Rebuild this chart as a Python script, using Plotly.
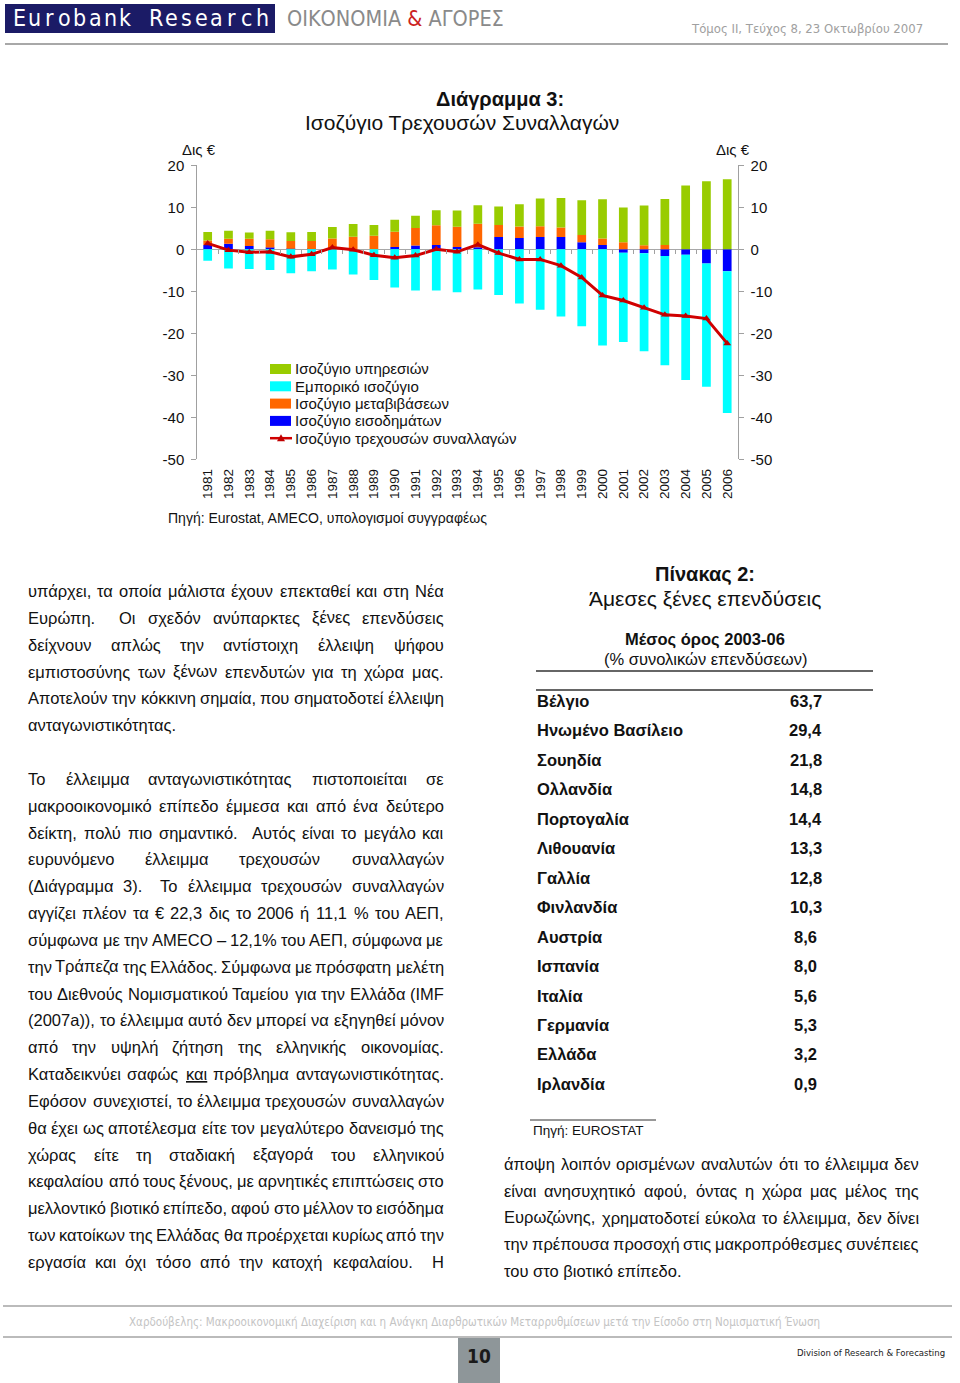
import re
import unicodedata
import plotly.graph_objects as go

# ---------------- data ----------------
years = list(range(1981, 2007))
year_labels = [str(y) for y in years]
income = [1.0, 1.3, 0.8, 0.4, 0.15, 0.1, 0.1, 0.0, 0.0, 0.55, 0.9, 1.0, 0.55,
          0.5, 2.9, 2.7, 2.9, 2.9, 1.7, 1.0, -0.8, -0.95, -1.6, -1.3, -3.4, -5.2]
transfers = [1.1, 1.2, 1.7, 2.0, 1.8, 1.9, 2.5, 3.0, 3.2, 3.6, 4.2, 4.7, 4.8,
             5.6, 2.9, 2.7, 2.6, 2.3, 1.7, 1.6, 1.7, 0.95, 1.0, 0.0, 0.0, 0.0]
services = [2.0, 1.9, 1.5, 2.0, 2.1, 2.1, 2.7, 3.0, 2.6, 2.9, 2.9, 3.6, 3.9,
            4.4, 4.4, 5.3, 6.6, 7.0, 8.3, 9.3, 8.25, 9.5, 11.0, 15.2, 16.2, 16.7]
trade = [-2.7, -4.6, -4.7, -4.9, -5.7, -5.2, -4.8, -6.0, -7.3, -9.1, -9.8, -9.8, -10.2,
         -9.6, -10.9, -12.9, -14.4, -16.0, -18.3, -22.9, -21.3, -23.3, -26.0, -29.8, -29.3, -33.8]
current = [1.4, -0.2, -0.7, -0.6, -1.8, -1.2, 0.4, -0.1, -1.4, -2.0, -1.5, 0.0, -0.6,
           1.1, -0.9, -2.4, -2.4, -3.9, -6.7, -11.0, -12.2, -13.9, -15.6, -15.9, -16.5, -22.4]
y_ticks = [20, 10, 0, -10, -20, -30, -40, -50]
y_tick_labels = ["20", "10", "0", "-10", "-20", "-30", "-40", "-50"]
y_range = [-50, 20]

series_names = ["Ισοζύγιο υπηρεσιών", "Εμπορικό ισοζύγιο", "Ισοζύγιο μεταβιβάσεων",
                "Ισοζύγιο εισοδημάτων", "Ισοζύγιο τρεχουσών συναλλαγών"]
series_colors = ["#99CC00", "#00FFFF", "#FF6600", "#0000FF", "#D00000"]

countries = ["Βέλγιο", "Ηνωμένο Βασίλειο", "Σουηδία", "Ολλανδία", "Πορτογαλία",
             "Λιθουανία", "Γαλλία", "Φινλανδία", "Αυστρία", "Ισπανία", "Ιταλία",
             "Γερμανία", "Ελλάδα", "Ιρλανδία"]
fdi_share = [63.7, 29.4, 21.8, 14.8, 14.4, 13.3, 12.8, 10.3, 8.6, 8.0, 5.6, 5.3, 3.2, 0.9]

LEFT_P1 = [
    "υπάρχει, τα οποία μάλιστα έχουν επεκταθεί και στη Νέα",
    "Ευρώπη.  Οι σχεδόν ανύπαρκτες ξένες επενδύσεις",
    "δείχνουν απλώς την αντίστοιχη έλλειψη ψήφου",
    "εμπιστοσύνης των ξένων επενδυτών για τη χώρα μας.",
    "Αποτελούν την κόκκινη σημαία, που σηματοδοτεί έλλειψη",
    "ανταγωνιστικότητας.",
]
LEFT_P2 = [
    "Το έλλειμμα ανταγωνιστικότητας πιστοποιείται σε",
    "μακροοικονομικό επίπεδο έμμεσα και από ένα δεύτερο",
    "δείκτη, πολύ πιο σημαντικό.  Αυτός είναι το μεγάλο και",
    "ευρυνόμενο έλλειμμα τρεχουσών συναλλαγών",
    "(Διάγραμμα 3).  Το έλλειμμα τρεχουσών συναλλαγών",
    "αγγίζει πλέον τα € 22,3 δις το 2006 ή 11,1 % του ΑΕΠ,",
    "σύμφωνα με την AMECO – 12,1% του ΑΕΠ, σύμφωνα με",
    "την Τράπεζα της Ελλάδος. Σύμφωνα με πρόσφατη μελέτη",
    "του Διεθνούς Νομισματικού Ταμείου για την Ελλάδα (IMF",
    "(2007a)), το έλλειμμα αυτό δεν μπορεί να εξηγηθεί μόνον",
    "από την υψηλή ζήτηση της ελληνικής οικονομίας.",
    "Καταδεικνύει σαφώς <u>και</u> πρόβλημα ανταγωνιστικότητας.",
    "Εφόσον συνεχιστεί, το έλλειμμα τρεχουσών συναλλαγών",
    "θα έχει ως αποτέλεσμα είτε τον μεγαλύτερο δανεισμό της",
    "χώρας είτε τη σταδιακή εξαγορά του ελληνικού",
    "κεφαλαίου από τους ξένους, με αρνητικές επιπτώσεις στο",
    "μελλοντικό βιοτικό επίπεδο, αφού στο μέλλον το εισόδημα",
    "των κατοίκων της Ελλάδας θα προέρχεται κυρίως από την",
    "εργασία και όχι τόσο από την κατοχή κεφαλαίου.  Η",
]
RIGHT_P = [
    "άποψη λοιπόν ορισμένων αναλυτών ότι το έλλειμμα δεν",
    "είναι ανησυχητικό αφού, όντας η χώρα μας μέλος της",
    "Ευρωζώνης, χρηματοδοτεί εύκολα το έλλειμμα, δεν δίνει",
    "την πρέπουσα προσοχή στις μακροπρόθεσμες συνέπειες",
    "του στο βιοτικό επίπεδο.",
]

# ---------------- page geometry helpers ----------------
W, H = 960, 1383
def X(px):
    return px / W
def Y(py):
    return 1 - py / H

BODY = "Liberation Sans, Arial, Helvetica, sans-serif"
NARROW = "Liberation Sans Narrow, Arial Narrow, DejaVu Sans Condensed, Liberation Sans, sans-serif"

# approximate Arial advance widths (1/1000 em)
WID = {}
for ch, w in zip("abcdefghijklmnopqrstuvwxyz",
                 [556,556,500,556,556,278,556,556,222,222,500,222,833,556,556,556,556,333,500,278,556,500,722,500,500,500]):
    WID[ch] = w
for ch, w in zip("ABCDEFGHIJKLMNOPQRSTUVWXYZ",
                 [667,667,722,722,667,611,778,722,278,500,667,556,833,722,778,667,778,722,667,611,722,667,944,667,667,611]):
    WID[ch] = w
for ch, w in zip("αβγδεζηθικλμνξοπρσςτυφχψω",
                 [578,575,500,557,446,441,556,556,222,500,500,576,500,448,556,690,569,617,484,395,546,726,525,713,781]):
    WID[ch] = w
for ch, w in zip("ΑΒΓΔΕΖΗΘΙΚΛΜΝΞΟΠΡΣΤΥΦΧΨΩ",
                 [667,667,551,668,667,611,722,778,278,667,668,833,722,650,778,722,667,618,611,667,797,667,835,748]):
    WID[ch] = w
WID.update({" ": 278, ",": 278, ".": 278, ":": 278, "(": 333, ")": 333, "-": 333,
            "–": 556, "€": 556, "%": 889})
for d in "0123456789":
    WID[d] = 556

def text_w(s, size):
    s = re.sub(r"<[^>]+>", "", s)
    tot = 0
    for ch in s:
        base = unicodedata.normalize("NFD", ch)[0]
        tot += WID.get(ch, WID.get(base, 556))
    return tot * size / 1000.0

annotations = []
shapes = []

def txt(px, py, text, size, family=BODY, color="#111111", xanchor="left", bold=False):
    if bold:
        text = "<b>" + text + "</b>"
    annotations.append(dict(x=X(px), y=Y(py), xref="paper", yref="paper", text=text,
                            showarrow=False, xanchor=xanchor, yanchor="middle",
                            borderpad=0, borderwidth=0,
                            font=dict(size=size, family=family, color=color)))

def line(x0, y0, x1, y1, color="#333333", width=1):
    shapes.append(dict(type="line", xref="paper", yref="paper", x0=X(x0), y0=Y(y0),
                       x1=X(x1), y1=Y(y1), line=dict(color=color, width=width)))

def rect(x0, y0, x1, y1, fill, layer="below"):
    shapes.append(dict(type="rect", xref="paper", yref="paper", x0=X(x0), y0=Y(y0),
                       x1=X(x1), y1=Y(y1), fillcolor=fill, line=dict(width=0), layer=layer))

FS = 16.5
def paragraph(lines, left, right, y0, step, justify_last):
    for i, ln in enumerate(lines):
        py = y0 + i * step
        last = (i == len(lines) - 1)
        if last and not justify_last:
            txt(left, py, ln, FS)
            continue
        parts = re.split(r"( +)", ln)
        words = parts[0::2]
        spaces = [len(s) for s in parts[1::2]]
        if not spaces:
            txt(left, py, ln, FS)
            continue
        wsum = sum(text_w(w, FS) for w in words)
        gap = (right - left - wsum) / sum(spaces)
        x = left
        for k, w in enumerate(words):
            if k == len(words) - 1:
                txt(right, py, w, FS, xanchor="right")
            else:
                txt(x, py, w, FS)
                x += text_w(w, FS) + spaces[k] * gap

# ---------------- chart ----------------
PX_L, PX_R, PX_T, PX_B = 197.3, 737.6, 165.3, 459.3
xdom = [X(PX_L), X(PX_R)]
ydom = [Y(PX_B), Y(PX_T)]
zero_pos = ydom[0] + (ydom[1] - ydom[0]) * (0 - y_range[0]) / (y_range[1] - y_range[0])

fig = go.Figure()
BW = 0.42
fig.add_trace(go.Bar(x=years, y=income, name=series_names[3], marker=dict(color=series_colors[3], line_width=0),
                     width=BW))
fig.add_trace(go.Bar(x=years, y=transfers, name=series_names[2], marker=dict(color=series_colors[2], line_width=0),
                     width=BW))
fig.add_trace(go.Bar(x=years, y=services, name=series_names[0], marker=dict(color=series_colors[0], line_width=0),
                     width=BW))
fig.add_trace(go.Bar(x=years, y=trade, name=series_names[1], marker=dict(color=series_colors[1], line_width=0),
                     width=BW))
fig.add_trace(go.Scatter(x=years, y=current, name=series_names[4], mode="lines+markers",
                         line=dict(color=series_colors[4], width=3),
                         marker=dict(symbol="triangle-up", size=7, color="#C00000")))
# helper (invisible) trace so the mirrored axes render
fig.add_trace(go.Scatter(x=years, y=current, xaxis="x2", yaxis="y2", mode="lines",
                         line=dict(width=0), opacity=0, showlegend=False, hoverinfo="skip"))

AX = "#A0A0A0"
xr = [years[0] - 0.5, years[-1] + 0.5]
fig.update_layout(
    width=W, height=H, autosize=False,
    margin=dict(l=0, r=0, t=0, b=0, pad=0, autoexpand=False),
    paper_bgcolor="white", plot_bgcolor="white",
    font=dict(family=BODY, color="#111111"),
    barmode="relative", bargap=0.5, showlegend=False,
    xaxis=dict(domain=xdom, range=xr, tickmode="array", tickvals=years, ticktext=year_labels,
               tickangle=-90, tickfont=dict(size=13.5, color="#111111"), showgrid=False,
               zeroline=False, showline=False, ticks="", ticklabelstandoff=6, anchor="y",
               automargin=False),
    xaxis2=dict(overlaying="x", range=xr, anchor="free", position=zero_pos, side="bottom",
                tickmode="array", tickvals=[y + 0.5 for y in years[:-1]], showticklabels=False,
                ticks="outside", ticklen=4, tickcolor=AX, showgrid=False, zeroline=False,
                showline=False, automargin=False),
    yaxis=dict(domain=ydom, range=y_range, tickmode="array", tickvals=y_ticks, ticktext=y_tick_labels,
               tickfont=dict(size=15, color="#111111"), showgrid=False, zeroline=True,
               zerolinecolor="#A8A8A8", zerolinewidth=1, showline=True, linecolor=AX,
               ticks="outside", ticklen=5, tickcolor=AX, ticklabelstandoff=4, anchor="x",
               automargin=False),
    yaxis2=dict(overlaying="y", side="right", range=y_range, tickmode="array", tickvals=y_ticks,
                ticktext=y_tick_labels,
                tickfont=dict(size=15, color="#111111"), showgrid=False, zeroline=False,
                showline=True, linecolor=AX, ticks="outside", ticklen=5, tickcolor=AX,
                ticklabelstandoff=4, anchor="x", automargin=False),
)

# manual legend (rows of the reference legend box)
leg_order = [0, 1, 2, 3, 4]
for r, k in enumerate(leg_order):
    py = 369 + r * 17.3
    if k < 4:
        rect(270, py - 5, 291, py + 5, series_colors[k], layer="above")
    else:
        line(270, py, 292, py, color=series_colors[4], width=2.5)
        shapes.append(dict(type="path", xref="paper", yref="paper",
                           path="M {} {} L {} {} L {} {} Z".format(X(277), Y(py + 3), X(285), Y(py + 3), X(281), Y(py - 4)),
                           fillcolor="#C00000", line=dict(width=0)))
    txt(295, py, series_names[k], 15)

# chart texts
txt(500, 99, "Διάγραμμα 3:", 20, bold=True, xanchor="center")
txt(462, 122, "Ισοζύγιο Τρεχουσών Συναλλαγών", 21, xanchor="center")
txt(199, 150, "Δις €", 15, xanchor="center")
txt(733, 150, "Δις €", 15, xanchor="center")
txt(168, 518, "Πηγή: Eurostat, AMECO, υπολογισμοί συγγραφέως", 14)

# ---------------- header ----------------
rect(5, 4, 275, 33, "#1B1B66")
for i, ch in enumerate("Eurobank Research"):
    if ch != " ":
        txt(19 + i * 15.2, 18.5, ch, 23, family=NARROW, color="white", xanchor="center")
txt(287, 18.5, "ΟΙΚΟΝΟΜΙΑ <span style='color:#CC2222'>&</span> ΑΓΟΡΕΣ", 21.5,
    family=NARROW, color="#8A8A8A")
txt(923, 28, "Τόμος ΙΙ, Τεύχος 8, 23 Οκτωβρίου 2007", 13, family=NARROW,
    color="#A0A0A0", xanchor="right")
line(5, 44, 948, 44, color="#A8A8A8", width=2)

# ---------------- body text ----------------
paragraph(LEFT_P1, 28, 444, 591, 26.84, False)
paragraph(LEFT_P2, 28, 444, 591 + 7 * 26.84, 26.84, True)
paragraph(RIGHT_P, 504, 919, 1164, 26.75, False)

# ---------------- table ----------------
txt(705, 574, "Πίνακας 2:", 20, bold=True, xanchor="center")
txt(705, 598, "Άμεσες ξένες επενδύσεις", 21, xanchor="center")
txt(705, 639, "Μέσος όρος 2003-06", 16.5, bold=True, xanchor="center")
txt(705, 659, "(% συνολικών επενδύσεων)", 16.5, xanchor="center")
line(536, 671, 873, 671, color="#333333", width=1.3)
line(536, 690, 873, 690, color="#333333", width=1.3)
for i, (c, v) in enumerate(zip(countries, fdi_share)):
    py = 701 + i * 29.45
    txt(537, py, c, 16.5, bold=True)
    txt(805.5, py, f"{v:.1f}".replace(".", ","), 16.5, bold=True, xanchor="center")
line(530, 1120, 656, 1120, color="#333333", width=1)
txt(533, 1130, "Πηγή: EUROSTAT", 13.5)

# ---------------- footer ----------------
line(3, 1306, 952, 1306, color="#BBBBBB", width=2)
txt(474, 1322, "Χαρδούβελης: Μακροοικονομική Διαχείριση και η Ανάγκη Διαρθρωτικών Μεταρρυθμίσεων μετά την Είσοδο στη Νομισματική Ένωση",
    11.5, family=NARROW, color="#C4C4C4", xanchor="center")
line(3, 1337, 952, 1337, color="#BBBBBB", width=2)
rect(458, 1338, 500, 1383, "#8E9699")
txt(479, 1356, "10", 19, family=NARROW, color="#1A1A1A", xanchor="center", bold=True)
txt(945, 1352, "Division of Research & Forecasting", 9.5, family=NARROW, color="#1A1A1A",
    xanchor="right")

fig.update_layout(annotations=annotations, shapes=shapes)

fig.write_html("out.html", config={"displayModeBar": False, "responsive": False},
               post_script="document.body.style.margin='0';document.body.style.overflow='hidden';")
